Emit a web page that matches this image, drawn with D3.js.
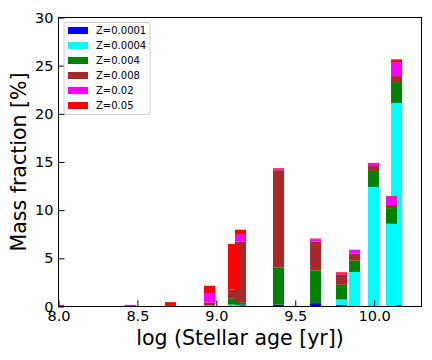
<!DOCTYPE html>
<html>
<head>
<meta charset="utf-8">
<script src="https://cdn.jsdelivr.net/npm/d3@7"></script>
<style>
  body { margin: 0; background: #fff; }
  text { font-family: "DejaVu Sans", sans-serif; }
</style>
</head>
<body>
<svg id="chart"></svg>
<script>
// log age of each bin
const ages = [8.00, 8.456, 8.71, 8.957, 9.109, 9.153, 9.394, 9.629, 9.793, 9.876, 9.996, 10.11, 10.142];

// mass fraction per metallicity (%)
const z0001 = [0, 0, 0, 0, 0, 0.13, 0.2, 0.35, 0.14, 0, 0, 0, 0.13];
const z0004 = [0, 0, 0, 0.1, 0.2, 0.05, 0, 0, 0.59, 3.59, 12.41, 8.59, 21.0];
const z004 = [0, 0, 0, 0, 0.6, 0.25, 3.85, 3.4, 1.52, 1.17, 1.66, 1.62, 2.17];
const z008 = [0, 0, 0.15, 0.3, 0.95, 6.3, 10.1, 3.0, 1.1, 0.72, 0.52, 0.34, 0.62];
const z02 = [0.16, 0.16, 0, 1.0, 0, 0.72, 0.1, 0.2, 0.14, 0.41, 0.31, 0.86, 1.45];
const z05 = [0, 0, 0.3, 0.75, 4.75, 0.52, 0.1, 0.1, 0.07, 0, 0, 0.07, 0.28];

const seriesNames = ["Z=0.0001", "Z=0.0004", "Z=0.004", "Z=0.008", "Z=0.02", "Z=0.05"];
const seriesValues = [z0001, z0004, z004, z008, z02, z05];
const colors = ["#0000ff", "#00ffff", "#008000", "#a52a2a", "#ff00ff", "#ff0000"];

const xTicks = [8.0, 8.5, 9.0, 9.5, 10.0];
const yTicks = [0, 5, 10, 15, 20, 25, 30];

const width = 432, height = 360;
const margin = { top: 17.5, right: 10.5, bottom: 53.5, left: 58.5 };
const barWidth = 0.07;

const svg = d3.select("#chart").attr("width", width).attr("height", height);

const x = d3.scaleLinear().domain([8.0, 10.3]).range([margin.left, width - margin.right]);
const y = d3.scaleLinear().domain([0, 30]).range([height - margin.bottom, margin.top]);

// rows for the stack
const rows = ages.map((a, i) => {
    const r = { age: a };
    seriesNames.forEach((n, j) => r[n] = seriesValues[j][i]);
    return r;
});
const stacked = d3.stack().keys(seriesNames)(rows);

svg.append("clipPath").attr("id", "plotclip")
    .append("rect")
    .attr("x", margin.left).attr("y", margin.top)
    .attr("width", width - margin.left - margin.right)
    .attr("height", height - margin.top - margin.bottom);

const plot = svg.append("g").attr("clip-path", "url(#plotclip)");

plot.selectAll("g.series")
    .data(stacked)
    .enter()
    .append("g")
    .attr("class", "series")
    .attr("fill", (d, i) => colors[i])
    .selectAll("rect")
    .data(d => d.filter(p => p[1] - p[0] > 0))
    .enter()
    .append("rect")
    .attr("x", d => x(d.data.age - barWidth / 2))
    .attr("width", d => x(d.data.age + barWidth / 2) - x(d.data.age - barWidth / 2))
    .attr("y", d => y(d[1]))
    .attr("height", d => y(d[0]) - y(d[1]));

// axes, ticks pointing inward
const xAxis = svg.append("g")
    .attr("transform", `translate(0,${height - margin.bottom})`)
    .call(d3.axisBottom(x).tickValues(xTicks).tickFormat(d3.format(".1f")).tickSizeInner(-6).tickSizeOuter(0).tickPadding(4));
xAxis.select(".domain").remove();
xAxis.selectAll("text").style("font-size", "14.5px").attr("fill", "#000");
xAxis.selectAll("line").attr("stroke", "#000");

const yAxis = svg.append("g")
    .attr("transform", `translate(${margin.left},0)`)
    .call(d3.axisLeft(y).tickValues(yTicks).tickSizeInner(-6).tickSizeOuter(0).tickPadding(5));
yAxis.select(".domain").remove();
yAxis.selectAll("text").style("font-size", "14.5px").attr("fill", "#000");
yAxis.selectAll("line").attr("stroke", "#000");

// frame
svg.append("rect")
    .attr("x", margin.left).attr("y", margin.top)
    .attr("width", width - margin.left - margin.right)
    .attr("height", height - margin.top - margin.bottom)
    .attr("fill", "none").attr("stroke", "#000").attr("stroke-width", 1);

// axis labels
svg.append("text")
    .attr("x", (margin.left + width - margin.right) / 2)
    .attr("y", 345)
    .attr("text-anchor", "middle")
    .style("font-size", "20.5px")
    .text("log (Stellar age [yr])");

svg.append("text")
    .attr("transform", `translate(26,${(margin.top + height - margin.bottom) / 2}) rotate(-90)`)
    .attr("text-anchor", "middle")
    .style("font-size", "20.5px")
    .text("Mass fraction [%]");

// legend
const legend = svg.append("g").attr("transform", "translate(64,22.5)");
legend.append("rect")
    .attr("width", 86).attr("height", 92).attr("rx", 2)
    .attr("fill", "#fff").attr("fill-opacity", 0.8)
    .attr("stroke", "#ccc").attr("stroke-width", 1);

const items = legend.selectAll("g.item")
    .data(seriesNames)
    .enter()
    .append("g")
    .attr("class", "item")
    .attr("transform", (d, i) => `translate(4,${8 + i * 15})`);

items.append("rect")
    .attr("x", 0).attr("y", -3.5)
    .attr("width", 20).attr("height", 7)
    .attr("fill", (d, i) => colors[i]);

items.append("text")
    .attr("x", 28).attr("y", 3.6)
    .style("font-size", "10px")
    .text(d => d);
</script>
</body>
</html>
